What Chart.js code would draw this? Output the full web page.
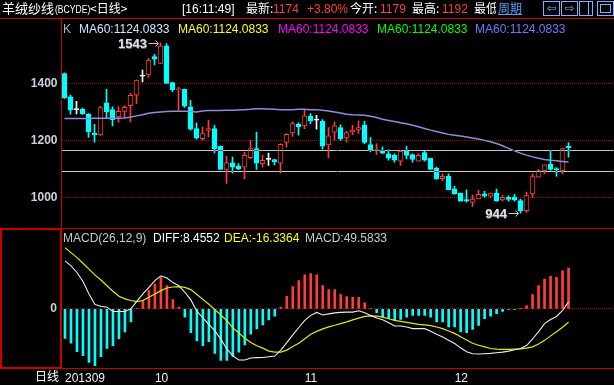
<!DOCTYPE html>
<html>
<head>
<meta charset="utf-8">
<script src="https://cdn.jsdelivr.net/npm/chart.js@4.4.0/dist/chart.umd.min.js"></script>
<style>
body { margin: 0; background: #000; }
#wrap { position: relative; width: 614px; height: 385px; overflow: hidden; background: #000;
        font-family: "Liberation Sans", Arial, sans-serif; font-size: 12px; }
canvas { position: absolute; left: 0; }
.t { position: absolute; white-space: nowrap; line-height: 14px; }
.cj { font-family: "Noto Sans CJK SC", sans-serif; }
.rl { position: absolute; background: #c80000; }
.btn { position: absolute; top: 1px; height: 13px; border: 1px solid #7fb0ff; color: #7fb0ff;
       font: 12px "DejaVu Sans", sans-serif; line-height: 13px; text-align: center; }
</style>
</head>
<body>
<div id="wrap">
  <canvas id="kc" width="614" height="240" style="top:0"></canvas>
  <canvas id="mc" width="614" height="167" style="top:218px"></canvas>

  <!-- header -->
  <span class="t cj" style="left:2px;top:1px;color:#fff;font-size:13px">羊绒纱线</span>
  <span class="t" style="left:55px;top:2px;color:#fff;font-size:11px;transform:scaleX(0.78);transform-origin:0 0">(BCYDE)</span>
  <span class="t cj" style="left:90px;top:1px;color:#fff;font-size:12px">&lt;日线&gt;</span>
  <span class="t" style="left:182px;top:2px;color:#fff">[16:11:49]</span>
  <span class="t cj" style="left:246px;top:1px;color:#fff">最新:</span>
  <span class="t" style="left:273px;top:2px;color:#ff3c3c">1174</span>
  <span class="t" style="left:307px;top:2px;color:#ff3c3c">+3.80%</span>
  <span class="t cj" style="left:350px;top:1px;color:#fff">今开:</span>
  <span class="t" style="left:380px;top:2px;color:#ff3c3c">1179</span>
  <span class="t cj" style="left:412px;top:1px;color:#fff">最高:</span>
  <span class="t" style="left:442px;top:2px;color:#ff3c3c">1192</span>
  <span class="t cj" style="left:474px;top:1px;color:#fff;width:22px;overflow:hidden">最低</span>
  <span class="t cj" style="left:498px;top:1px;color:#5a9cff;text-decoration:underline">周期</span>
  <div class="btn" style="left:543px;width:15px">&#8678;</div>
  <div class="btn" style="left:561px;width:15px">&#8680;</div>
  <div class="btn" style="left:579px;width:12px"><div style="position:absolute;left:8px;top:0;width:1px;height:13px;background:#7fb0ff"></div></div>
  <div class="btn" style="left:597px;width:15px"><div style="position:absolute;left:2px;top:2px;width:9px;height:7px;border:1px solid #7fb0ff"></div></div>

  <!-- frame -->
  <div class="rl" style="left:0;top:18px;width:614px;height:1px"></div>
  <div class="rl" style="left:61px;top:18px;width:1px;height:210px"></div>
  <div class="rl" style="left:0;top:228px;width:614px;height:1px"></div>
  <div class="rl" style="left:0;top:368px;width:614px;height:1px"></div>
  <div style="position:absolute;left:0;top:228px;width:58px;height:137px;border:2px solid #c80000"></div>

  <!-- legends -->
  <span class="t" style="left:63px;top:22px;color:#a8b4c8">K</span>
  <span class="t" style="left:79px;top:22px;color:#d0e4ff">MA60:1124.0833</span>
  <span class="t" style="left:178px;top:22px;color:#ffff00">MA60:1124.0833</span>
  <span class="t" style="left:278px;top:22px;color:#ff00ff">MA60:1124.0833</span>
  <span class="t" style="left:377px;top:22px;color:#00ff00">MA60:1124.0833</span>
  <span class="t" style="left:475px;top:22px;color:#7078ff">MA60:1124.0833</span>

  <span class="t" style="left:63px;top:231px;color:#c8c8c8">MACD(26,12,9)</span>
  <span class="t" style="left:153px;top:231px;color:#ffffff">DIFF:8.4552</span>
  <span class="t" style="left:224px;top:231px;color:#ffff00">DEA:-16.3364</span>
  <span class="t" style="left:305px;top:231px;color:#c8c8c8">MACD:49.5833</span>

  <span class="t cj" style="left:35px;top:369px;color:#fff">日线</span>
</div>

<script>
// OHLC, one entry per trading day
const opens  = [1435,1353,1308,1309,1292,1226,1219,1332,1308,1282, 1302,1322,1359,1426,1432,1494,1470,1532,1403,1378,
                1379,1318,1241,1206,1235,1241,1179,1098,1121,1110, 1106,1139,1171,1118,1133,1132,1120,1193,1226,1257,
                1251,1285,1271,1267,1184,1229,1245,1209,1230,1237, 1253,1185,1164,1165,1153,1147,1127,1162,1150,1127,
                1157,1137,1102,1065,1074,1030,1015, 992, 982, 994, 1012,1004,1015, 991,1000,1000, 988, 953,1012,1071,
                1094,1116,1100,1094,1179];
const highs  = [1437,1359,1337,1313,1294,1256,1320,1379,1318,1318, 1322,1365,1412,1447,1488,1502,1543,1540,1404,1386,
                1380,1341,1262,1247,1271,1253,1180,1144,1141,1118, 1159,1200,1229,1147,1155,1133,1188,1224,1265,1262,
                1306,1294,1288,1273,1245,1265,1255,1232,1253,1268, 1267,1210,1188,1177,1167,1153,1165,1179,1153,1153,
                1161,1137,1106,1082,1082,1038,1015,1026,1008,1024, 1021,1015,1029,1006,1005,1010, 994,1018,1082,1097,
                1114,1165,1104,1171,1192];
const lows   = [1347,1292,1293,1291,1210,1194,1217,1280,1251,1264, 1280,1265,1330,1405,1421,1465,1470,1400,1371,1306,
                1316,1236,1204,1200,1212,1156,1098,1049,1085,1097, 1065,1135,1098,1106,1112,1114,1085,1177,1214,1218,
                1241,1259,1239,1169,1139,1200,1200,1194,1220,1224, 1188,1159,1151,1153,1130,1123,1112,1135,1123,1127,
                1127,1098,1064,1057,1027,1010, 986, 983, 968, 994, 1000,1000, 986, 986, 986, 986, 944, 947,1000,1071,
                1082,1094,1074,1082,1141];
const closes = [1349,1306,1308,1294,1230,1219,1315,1300,1273,1302, 1316,1358,1412,1426,1482,1485,1532,1400,1377,1380,
                1320,1239,1208,1224,1241,1170,1098,1121,1106,1100, 1147,1171,1120,1130,1133,1125,1186,1221,1259,1247,
                1286,1268,1271,1180,1216,1251,1206,1227,1236,1245, 1193,1165,1166,1155,1137,1130,1162,1147,1133,1147,
                1130,1098,1064,1074,1027,1012, 986, 986, 994,1010, 1004,1015, 986,1000, 992, 991, 953,1006,1073,1094,
                1114,1098,1097,1171,1174];
const ma60   = [1277,1277,1277,1277,1277,1278,1278,1278,1278,1278, 1279,1282,1286,1290,1295,1298,1300,1301,1302,1302,
                1302,1301,1300,1303,1305,1305,1305,1306,1306,1307, 1308,1309,1311,1311,1310,1309,1308,1308,1308,1309,
                1309,1308,1308,1306,1303,1300,1296,1292,1290,1289, 1288,1285,1280,1274,1270,1266,1262,1258,1253,1248,
                1242,1236,1231,1226,1221,1218,1215,1212,1208,1205, 1200,1195,1189,1181,1172,1163,1155,1148,1142,1137,
                1133,1130,1128,1126,1124];
const priceLines = [1165, 1094];
const kTicks = [1000, 1200, 1400];

// MACD(26,12,9)
const diff = [58.4,52.4,44.3,33.4,18.1,5.2,3.2,2.0,-3.2,-3.2, -3.2,0.0,9.3,18.1,26.2,34.3,40.3,37.5,32.0,28.2,
              20.2,10.9,-3.0,-11.0,-19.0,-27.0,-37.0,-49.0,-57.5,-62.5, -62.5,-60.0,-59.6,-59.4,-58.4,-57.6,-50.5,-41.3,-31.8,-22.8,
              -14.1,-8.0,-4.4,-7.5,-6.2,-5.0,-4.4,-4.0,-4.0,-2.4, -4.8,-8.1,-11.3,-13.3,-16.9,-21.0,-21.0,-22.2,-24.2,-24.2,
              -24.2,-27.4,-31.0,-34.3,-38.3,-42.3,-47.6,-52.4,-54.8,-55.2, -54.8,-54.4,-53.6,-52.8,-51.6,-50.0,-48.4,-44.8,-36.8,-27.8,
              -18.1,-13.1,-9.3,-2.0,8.5];
const dea  = [74.6,68.5,62.5,55.6,48.4,41.1,35.1,28.2,21.4,15.3, 12.1,10.1,8.9,10.1,14.1,18.1,22.2,25.4,26.6,27.0,
              26.2,23.4,17.5,11.5,5.5,-1.0,-7.5,-14.5,-23.2,-29.5, -36.0,-41.0,-45.0,-48.0,-51.6,-52.8,-52.8,-50.4,-46.0,-42.0,
              -36.5,-31.0,-27.5,-24.5,-22.0,-20.0,-18.0,-16.0,-13.5,-11.3, -9.3,-8.5,-8.9,-10.1,-12.1,-14.1,-15.3,-16.5,-17.7,-18.9,
              -19.7,-20.6,-22.2,-24.2,-27.0,-30.0,-34.0,-38.0,-42.0,-44.5, -46.5,-48.4,-49.2,-49.6,-49.6,-49.2,-48.8,-48.0,-46.4,-43.0,
              -38.5,-33.0,-28.0,-22.5,-16.3];
const macd = [-36.0,-42.0,-52.4,-57.2,-65.3,-69.3,-58.4,-48.4,-45.1,-36.3, -28.2,-16.1,0.5,10.1,22.2,30.2,38.3,28.2,11.3,2.0,
              -10.1,-29.0,-39.0,-45.0,-40.0,-54.4,-63.0,-63.0,-58.0,-53.0, -44.0,-31.0,-24.5,-19.7,-13.7,-9.0,2.0,15.3,27.0,34.3,
              41.5,43.1,41.5,28.2,23.4,23.4,17.3,14.9,14.1,14.1, 7.3,0.5,-4.8,-10.1,-12.1,-14.1,-12.9,-10.1,-8.1,-8.1,
              -8.1,-10.1,-16.1,-16.1,-22.2,-22.2,-28.2,-29.0,-25.0,-20.2, -12.1,-8.9,-6.0,-3.2,-0.8,-0.5,0.3,4.0,17.3,28.2,
              36.3,39.5,38.3,46.3,49.6];

const monthTicks = { 0: '201309', 15: '10', 40: '11', 65: '12' };
const SLOTS = 92;
const labels = Array.from({ length: SLOTS }, (_, i) => String(i));

const RED = '#ff3c3c', CYAN = '#00ffff', WHITE = '#ffffff';
const candleColor = opens.map((o, i) => closes[i] > o ? RED : (closes[i] < o ? CYAN : WHITE));
const bodyFill = opens.map((o, i) => closes[i] > o ? '#000000' : candleColor[i]);

const tickFont = { family: '"Liberation Sans", Arial, sans-serif', size: 12, weight: 'bold' };

const topMarks = {
    id: 'topMarks',
    afterDatasetsDraw(c) {
        const ctx = c.ctx, x = c.scales.x, y = c.scales.y, a = c.chartArea;
        ctx.save();
        ctx.globalCompositeOperation = 'difference';
        ctx.strokeStyle = '#c8c8c8';
        ctx.lineWidth = 1;
        priceLines.forEach(v => {
            const py = Math.round(y.getPixelForValue(v)) + 0.5;
            ctx.beginPath(); ctx.moveTo(a.left, py); ctx.lineTo(a.right, py); ctx.stroke();
        });
        ctx.restore();

        const hi = highs.indexOf(Math.max(...highs));
        const lo = lows.indexOf(Math.min(...lows));
        [[hi, highs[hi]], [lo, lows[lo]]].forEach(([i, v]) => {
            const px = x.getPixelForValue(i), py = Math.round(y.getPixelForValue(v)) + 0.5;
            ctx.save();
            ctx.strokeStyle = '#c0c0c0';
            ctx.lineWidth = 1;
            ctx.beginPath();
            ctx.moveTo(px - 12, py); ctx.lineTo(px - 2, py);
            ctx.moveTo(px - 5, py - 3); ctx.lineTo(px - 2, py); ctx.lineTo(px - 5, py + 3);
            ctx.stroke();
            ctx.font = 'bold 13px "Liberation Sans", Arial, sans-serif';
            ctx.textAlign = 'right';
            ctx.textBaseline = 'middle';
            ctx.fillStyle = '#606060';
            ctx.fillText(String(v), px - 13, py + 1.5);
            ctx.fillStyle = '#dde2ec';
            ctx.fillText(String(v), px - 13.5, py + 1);
            ctx.restore();
        });
    }
};

new Chart(document.getElementById('kc'), {
    type: 'bar',
    data: {
        labels: labels,
        datasets: [
            {
                type: 'line', data: ma60, borderColor: '#8c8ce0', borderWidth: 1.5,
                pointRadius: 0, tension: 0, order: 0
            },
            {
                data: opens.map((o, i) => [o, closes[i]]),
                backgroundColor: bodyFill, borderColor: candleColor, borderWidth: 1,
                borderSkipped: false, barThickness: 5, minBarLength: 1, grouped: false, order: 1
            },
            {
                data: highs.map((h, i) => [lows[i], h]),
                backgroundColor: candleColor, borderWidth: 0,
                barThickness: 1, grouped: false, order: 2
            }
        ]
    },
    options: {
        responsive: false,
        animation: false,
        layout: { padding: { top: 20, bottom: 14, left: 0, right: 0.5 } },
        plugins: { legend: { display: false }, tooltip: { enabled: false } },
        scales: {
            x: { display: false, offset: true },
            y: {
                min: 899, max: 1623,
                afterFit: s => { s.width = 61.5; },
                afterBuildTicks: s => { s.ticks = kTicks.map(v => ({ value: v })); },
                border: { display: false, dash: [1, 1] },
                grid: { color: '#b00000', drawTicks: false },
                ticks: { padding: 4, color: '#c8d0dc', font: tickFont, callback: v => String(v) }
            }
        }
    },
    plugins: [topMarks]
});

new Chart(document.getElementById('mc'), {
    type: 'bar',
    data: {
        labels: labels,
        datasets: [
            { type: 'line', data: diff, borderColor: '#ececec', borderWidth: 1.1, pointRadius: 0, tension: 0, order: 0 },
            { type: 'line', data: dea, borderColor: '#e8e800', borderWidth: 1.2, pointRadius: 0, tension: 0, order: 0 },
            {
                data: macd, backgroundColor: macd.map(v => v >= 0 ? RED : CYAN),
                barThickness: 2, borderWidth: 0, grouped: false, order: 1
            }
        ]
    },
    options: {
        responsive: false,
        animation: false,
        layout: { padding: { top: 11, bottom: 0, left: 0, right: 0.5 } },
        plugins: { legend: { display: false }, tooltip: { enabled: false } },
        scales: {
            x: {
                offset: true,
                afterFit: s => { s.height = 17; },
                grid: { display: false, drawTicks: false },
                border: { display: false },
                ticks: {
                    autoSkip: false, maxRotation: 0, align: 'start', padding: 3, color: '#f0f0f0',
                    font: { family: '"Liberation Sans", Arial, sans-serif', size: 12 },
                    callback: (v, i) => monthTicks[i] || ''
                }
            },
            y: {
                min: -72.2, max: 95.9,
                afterFit: s => { s.width = 62; },
                afterBuildTicks: s => { s.ticks = [{ value: 0 }]; },
                border: { display: false, dash: [1, 1] },
                grid: { color: '#b00000', drawTicks: false },
                ticks: { padding: 5, color: '#c8d0dc', font: tickFont, callback: v => String(v) }
            }
        }
    }
});
</script>
</body>
</html>
